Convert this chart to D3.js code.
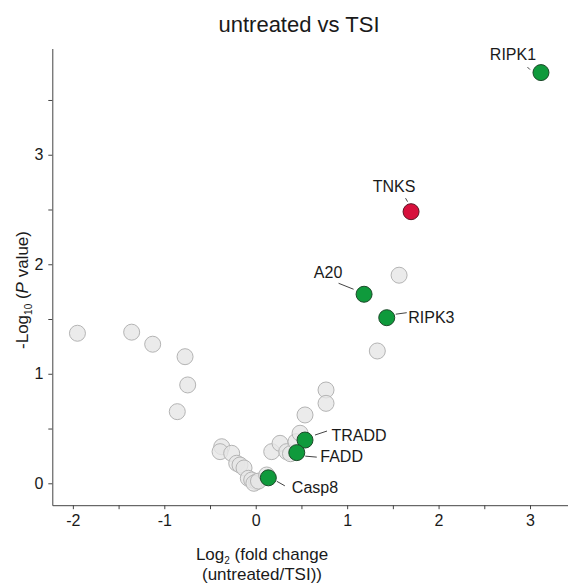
<!DOCTYPE html>
<html>
<head>
<meta charset="utf-8">
<script src="https://cdn.jsdelivr.net/npm/d3@7"></script>
<style>
  body { margin: 0; background: #fff; }
  text { font-family: "Liberation Sans", Arial, sans-serif; fill: #1a1a1a; }
</style>
</head>
<body>
<div id="app"></div>
<script>
// Background proteins (log2 fold change, -log10 p)
const bgFold = [-1.95, -1.357, -1.127, -0.773, -0.744, -0.858,
    -0.372, -0.39, -0.263, -0.208, -0.172, -0.128, -0.081, -0.044, 0.01, -0.02, 0.03, 0.12,
    0.175, 0.266, 0.339, 0.38, 0.44, 0.485, 0.539, 0.769, 0.769, 1.568, 1.33];
const bgLogP = [1.37, 1.38, 1.27, 1.156, 0.898, 0.654,
    0.334, 0.289, 0.274, 0.183, 0.167, 0.14, 0.046, 0.03, 0.015, 0.0, 0.02, 0.076,
    0.289, 0.365, 0.289, 0.27, 0.38, 0.457, 0.624, 0.852, 0.73, 1.90, 1.208];

// Highlighted proteins
const genes = ['RIPK1', 'TNKS', 'A20', 'RIPK3', 'TRADD', 'FADD', 'Casp8'];
const geneFold = [3.12, 1.699, 1.185, 1.433, 0.539, 0.449, 0.138];
const geneLogP = [3.75, 2.48, 1.726, 1.512, 0.395, 0.28, 0.05];
const geneGroup = ['green', 'red', 'green', 'green', 'green', 'green', 'green'];

const xTicks = [-2, -1.5, -1, -0.5, 0, 0.5, 1, 1.5, 2, 2.5, 3];
const yTicks = [0, 0.5, 1, 1.5, 2, 2.5, 3, 3.5];

// label placement relative to the point: text anchor, text offset, leader start/end
const labelLayout = {
    RIPK1: { anchor: 'middle', tx: -28, ty: -13, l: [-11, -3, -13.5, -5.5] },
    TNKS:  { anchor: 'middle', tx: -17, ty: -20, l: [-3.5, -10, -5.5, -13.5] },
    A20:   { anchor: 'middle', tx: -36, ty: -16, l: [-10.5, -5, -25.5, -11] },
    RIPK3: { anchor: 'start', tx: 21.5, ty: 5, l: [9, -3.5, 20, -5] },
    TRADD: { anchor: 'start', tx: 26.5, ty: 1, l: [10, -5, 22, -9] },
    FADD:  { anchor: 'start', tx: 23.5, ty: 9.5, l: [8.5, 3.5, 20, 4.5] },
    Casp8: { anchor: 'start', tx: 23.5, ty: 15.5, l: [8.5, 3.5, 16.5, 8] }
};

const bgData = bgFold.map((v, i) => ({ x: v, y: bgLogP[i] }));
const geneData = genes.map((g, i) => ({ name: g, x: geneFold[i], y: geneLogP[i], group: geneGroup[i] }));

const width = 568;
const height = 585;

const svg = d3.select('#app').append('svg')
    .attr('width', width)
    .attr('height', height);

const xScale = d3.scaleLinear()
    .domain([-2.225, 3.42])
    .range([52.3, 568.4]);

const yScale = d3.scaleLinear()
    .domain([-0.2, 3.97])
    .range([505.2, 48.5]);

const intFmt = d => Number.isInteger(d) ? d : '';

// X axis
svg.append('g')
    .attr('transform', `translate(0, ${yScale(-0.2)})`)
    .call(d3.axisBottom(xScale).tickValues(xTicks).tickFormat(intFmt)
        .tickSize(4).tickSizeOuter(0).tickPadding(5));

// Y axis
svg.append('g')
    .attr('transform', `translate(${xScale(-2.225)}, 0)`)
    .call(d3.axisLeft(yScale).tickValues(yTicks).tickFormat(intFmt)
        .tickSize(4).tickSizeOuter(0).tickPadding(5));

svg.selectAll('.domain, .tick line')
    .attr('stroke', '#444')
    .attr('stroke-width', 1);

svg.selectAll('.tick text')
    .attr('font-size', '16px')
    .attr('font-family', '"Liberation Sans", Arial, sans-serif')
    .attr('fill', '#1a1a1a');

// Background points
svg.append('g')
    .selectAll('circle')
    .data(bgData)
    .join('circle')
    .attr('cx', d => xScale(d.x))
    .attr('cy', d => yScale(d.y))
    .attr('r', 8)
    .attr('fill', '#e6e6e6')
    .attr('fill-opacity', 0.8)
    .attr('stroke', '#b4b4b4')
    .attr('stroke-width', 1);

const colors = { green: '#0f9a3c', red: '#d7103c' };
const strokes = { green: '#1d4a2a', red: '#5c1424' };

// Leader lines
svg.append('g')
    .selectAll('line')
    .data(geneData)
    .join('line')
    .attr('x1', d => xScale(d.x) + labelLayout[d.name].l[0])
    .attr('y1', d => yScale(d.y) + labelLayout[d.name].l[1])
    .attr('x2', d => xScale(d.x) + labelLayout[d.name].l[2])
    .attr('y2', d => yScale(d.y) + labelLayout[d.name].l[3])
    .attr('stroke', '#444')
    .attr('stroke-width', 1);

// Highlighted points
svg.append('g')
    .selectAll('circle')
    .data(geneData)
    .join('circle')
    .attr('cx', d => xScale(d.x))
    .attr('cy', d => yScale(d.y))
    .attr('r', 8)
    .attr('fill', d => colors[d.group])
    .attr('stroke', d => strokes[d.group])
    .attr('stroke-width', 1);

// Gene labels
svg.append('g')
    .selectAll('text')
    .data(geneData)
    .join('text')
    .attr('x', d => xScale(d.x) + labelLayout[d.name].tx)
    .attr('y', d => yScale(d.y) + labelLayout[d.name].ty)
    .attr('text-anchor', d => labelLayout[d.name].anchor)
    .attr('font-size', '16px')
    .text(d => d.name);

// Title
svg.append('text')
    .attr('x', 299)
    .attr('y', 32)
    .attr('text-anchor', 'middle')
    .attr('font-size', '22px')
    .text('untreated vs TSI');

// X label
const xLab = svg.append('text')
    .attr('x', 262)
    .attr('y', 560)
    .attr('text-anchor', 'middle')
    .attr('font-size', '17px');
xLab.append('tspan').text('Log');
xLab.append('tspan').attr('font-size', '10px').attr('dy', 4).text('2');
xLab.append('tspan').attr('dy', -4).text(' (fold change');

svg.append('text')
    .attr('x', 262)
    .attr('y', 580)
    .attr('text-anchor', 'middle')
    .attr('font-size', '17px')
    .text('(untreated/TSI))');

// Y label
const yLab = svg.append('text')
    .attr('transform', 'translate(28, 290) rotate(-90)')
    .attr('text-anchor', 'middle')
    .attr('font-size', '17px');
yLab.append('tspan').text('-Log');
yLab.append('tspan').attr('font-size', '10px').attr('dy', 4).text('10');
yLab.append('tspan').attr('dy', -4).text(' (');
yLab.append('tspan').attr('font-style', 'italic').text('P');
yLab.append('tspan').text(' value)');
</script>
</body>
</html>
